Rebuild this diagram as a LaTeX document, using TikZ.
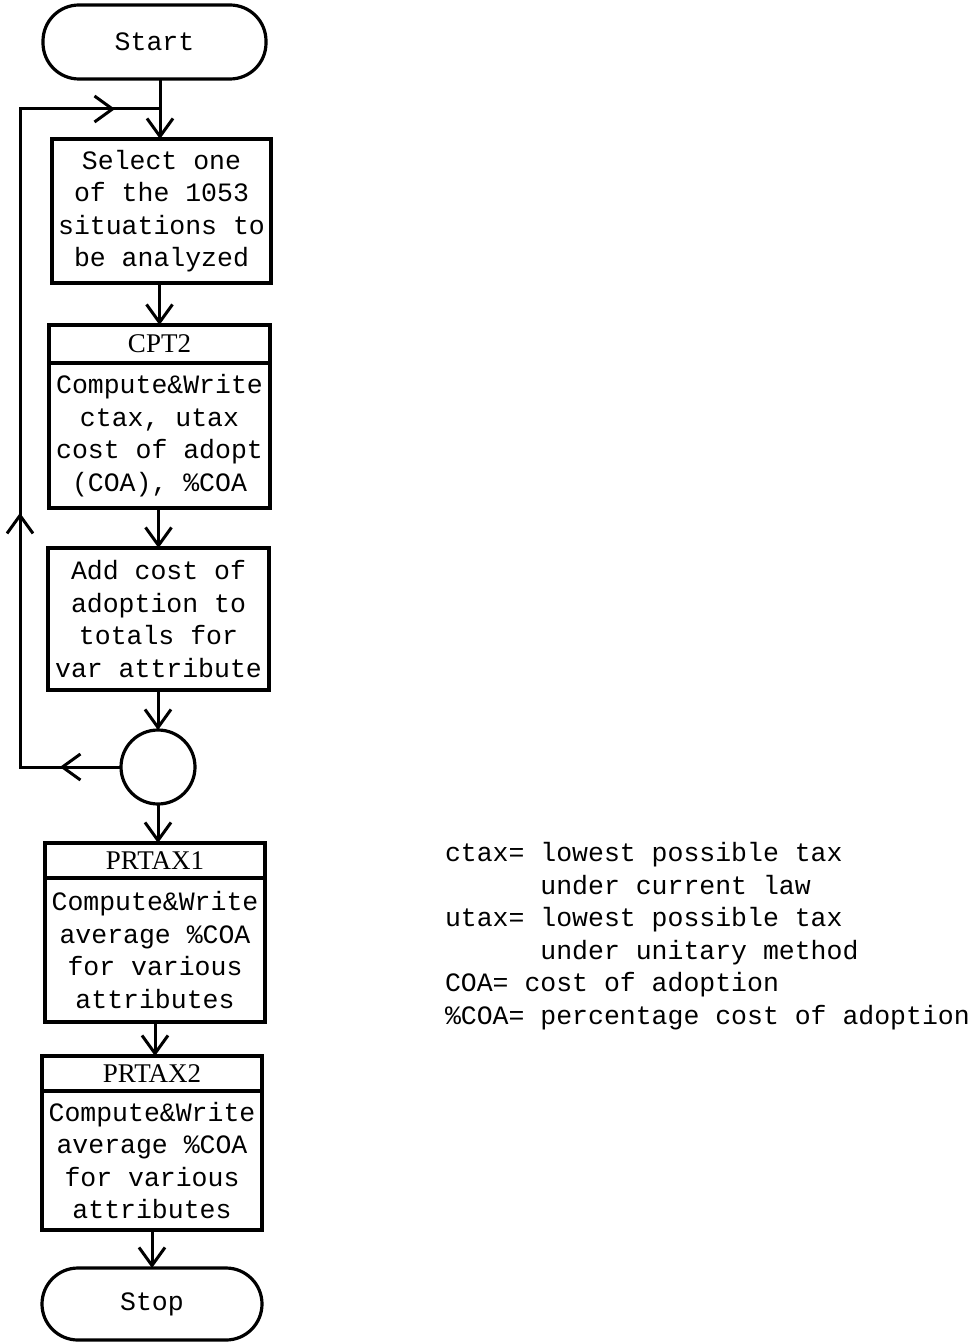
\documentclass[tikz,border=0pt]{standalone}
\usepackage{fontspec}
\setmonofont{Liberation Mono}
\newfontfamily\hdrfont{Liberation Serif}
\usetikzlibrary{arrows.meta,decorations.markings}

\begin{document}
\begin{tikzpicture}[x=0.5pt,y=-0.5pt,
  every node/.style={inner sep=0pt, outer sep=0pt},
  txt/.style={font=\ttfamily\fontsize{13.25pt}{16.25pt}\selectfont, align=center},
  box/.style={draw, line width=1.6pt, txt},
  hdr/.style={draw, line width=1.6pt, font=\hdrfont\fontsize{13.5pt}{16pt}\selectfont},
  term/.style={draw, line width=1.6pt, rounded corners=18pt, txt},
  flow/.style={line width=1.5pt, -{Straight Barb[length=9pt,width=13pt]}},
  loopline/.style={line width=1.5pt, postaction={decorate},
    decoration={markings,
      mark=at position 0.068 with {\arrow{Straight Barb[length=9pt,width=13pt]}},
      mark=at position 0.395 with {\arrow{Straight Barb[length=9pt,width=13pt]}},
      mark=at position 0.95 with {\arrow{Straight Barb[length=9pt,width=13pt]}}}},
]
\useasboundingbox (0,0) rectangle (979,1342);

% terminals, processes and connector of the flow
\node[term, minimum width=111.5pt, minimum height=37pt] (start) at (154.5,42) {Start};

\node[box, minimum width=109.5pt, minimum height=72pt] (sel) at (161.5,211)
  {Select one\\of the 1053\\situations to\\be analyzed};

\node[hdr, minimum width=110.5pt, minimum height=19pt] (cpth) at (159.5,344) {CPT2};
\node[box, minimum width=110.5pt, minimum height=72.5pt, anchor=north] (cptb) at (cpth.south)
  {Compute\&Write\\ctax, utax\\cost of adopt\\(COA), \%COA};

\node[box, minimum width=110.5pt, minimum height=71pt] (add) at (158.5,619)
  {Add cost of\\adoption to\\totals for\\var attribute};

\node[draw, circle, line width=1.6pt, minimum size=37pt] (conn) at (158,767) {};

\node[hdr, minimum width=110pt, minimum height=17.5pt] (p1h) at (155,860.5) {PRTAX1};
\node[box, minimum width=110pt, minimum height=72pt, anchor=north] (p1b) at (p1h.south)
  {Compute\&Write\\average \%COA\\for various\\attributes};

\node[hdr, minimum width=110pt, minimum height=17.5pt] (p2h) at (152,1073.5) {PRTAX2};
\node[box, minimum width=110pt, minimum height=69.5pt, anchor=north] (p2b) at (p2h.south)
  {Compute\&Write\\average \%COA\\for various\\attributes};

\node[term, minimum width=110pt, minimum height=36pt] (stop) at (152,1304) {Stop};

% legend of abbreviations
\node[txt, align=left, anchor=west] (legend) at (445,936)
  {ctax= lowest possible tax\\
   \phantom{ctax=}\ under current law\\
   utax= lowest possible tax\\
   \phantom{utax=}\ under unitary method\\
   COA= cost of adoption\\
   \%COA= percentage cost of adoption};

% flow lines
\coordinate (join) at (160,109);
\coordinate (lb) at (20,767);
\coordinate (lt) at (20,109);

\draw[flow] (start.south -| join) -- (join |- sel.north);
\draw[flow] (cpth.north |- sel.south) -- (cpth.north);
\draw[flow] (add.north |- cptb.south) -- (add.north);
\draw[flow] (conn.north |- add.south) -- (conn.north);
\draw[flow] (conn.south) -- (conn.south |- p1h.north);
\draw[flow] (p1b.south) -- (p1b.south |- p2h.north);
\draw[flow] (p2b.south) -- (p2b.south |- stop.north);

% return loop back to the selection step
\draw[loopline] (conn.west) -- (lb) -- (lt) -- (join);
\end{tikzpicture}
\end{document}
